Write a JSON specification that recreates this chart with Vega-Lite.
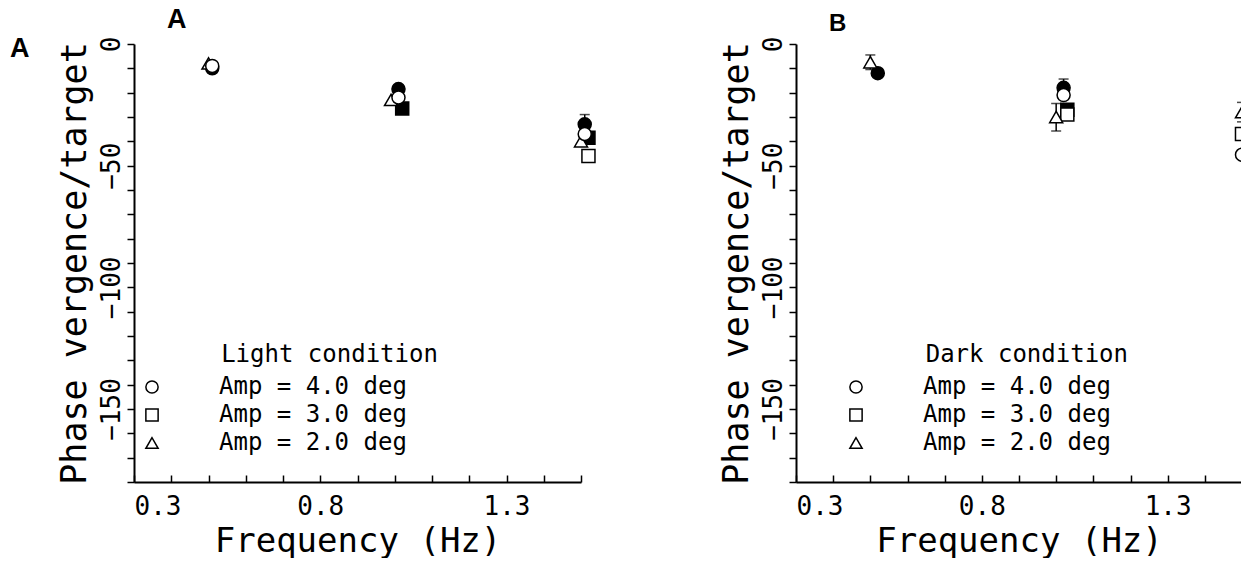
{
  "$schema": "https://vega.github.io/schema/vega-lite/v6.json",
  "background": "white",
  "padding": {"left": 10, "top": 6, "right": 0, "bottom": 0},
  "title": {"text": "A", "orient": "left", "anchor": "end", "angle": 0, "align": "right", "baseline": "top", "dy": 30, "font": "Liberation Sans", "fontWeight": "bold", "fontSize": 27, "color": "black", "offset": 8},
  "datasets": {
    "pts": [
      {"panel": "A", "freq": 0.51, "phase": -10, "amp": "Amp = 4.0 deg", "style": "filled"},
      {"panel": "A", "freq": 1.01, "phase": -18.5, "amp": "Amp = 4.0 deg", "style": "filled"},
      {"panel": "A", "freq": 1.02, "phase": -26.5, "amp": "Amp = 3.0 deg", "style": "filled"},
      {"panel": "A", "freq": 1.51, "phase": -33, "amp": "Amp = 4.0 deg", "style": "filled", "lo": -37, "hi": -29},
      {"panel": "A", "freq": 1.52, "phase": -38.5, "amp": "Amp = 3.0 deg", "style": "filled"},
      {"panel": "A", "freq": 0.5, "phase": -8, "amp": "Amp = 2.0 deg", "style": "open"},
      {"panel": "A", "freq": 0.51, "phase": -9, "amp": "Amp = 4.0 deg", "style": "open"},
      {"panel": "A", "freq": 0.99, "phase": -23, "amp": "Amp = 2.0 deg", "style": "open"},
      {"panel": "A", "freq": 1.01, "phase": -22, "amp": "Amp = 4.0 deg", "style": "open"},
      {"panel": "A", "freq": 1.5, "phase": -40, "amp": "Amp = 2.0 deg", "style": "open"},
      {"panel": "A", "freq": 1.51, "phase": -37, "amp": "Amp = 4.0 deg", "style": "open"},
      {"panel": "A", "freq": 1.52, "phase": -46, "amp": "Amp = 3.0 deg", "style": "open"},
      {"panel": "B", "freq": 0.52, "phase": -12, "amp": "Amp = 4.0 deg", "style": "filled"},
      {"panel": "B", "freq": 1.02, "phase": -18, "amp": "Amp = 4.0 deg", "style": "filled", "lo": -21.6, "hi": -14.4},
      {"panel": "B", "freq": 1.03, "phase": -27, "amp": "Amp = 3.0 deg", "style": "filled"},
      {"panel": "B", "freq": 0.5, "phase": -7.5, "amp": "Amp = 2.0 deg", "style": "open", "lo": -10.5, "hi": -4.5},
      {"panel": "B", "freq": 1.02, "phase": -21, "amp": "Amp = 4.0 deg", "style": "open"},
      {"panel": "B", "freq": 1.03, "phase": -29, "amp": "Amp = 3.0 deg", "style": "open"},
      {"panel": "B", "freq": 1.0, "phase": -30, "amp": "Amp = 2.0 deg", "style": "open", "lo": -35.8, "hi": -24.5},
      {"panel": "B", "freq": 1.5, "phase": -28, "amp": "Amp = 2.0 deg", "style": "open", "lo": -32, "hi": -24},
      {"panel": "B", "freq": 1.5, "phase": -37, "amp": "Amp = 3.0 deg", "style": "open"},
      {"panel": "B", "freq": 1.5, "phase": -45.5, "amp": "Amp = 4.0 deg", "style": "open"}
    ],
    "notes": [
      {"panel": "A", "label": "Light condition"},
      {"panel": "B", "label": "Dark condition"}
    ]
  },
  "spacing": 215,
  "bounds": "flush",
  "resolve": {"scale": {"shape": "independent", "fill": "independent", "x": "independent", "y": "independent"}, "legend": {"shape": "independent"}},
  "hconcat": [
    {
      "title": {"text": "A", "anchor": "start", "frame": "group", "dx": 33, "offset": 2, "font": "Liberation Sans", "fontWeight": "bold", "fontSize": 27, "color": "black"},
      "width": 447,
      "height": 438,
      "layer": [
        {"data": {"name": "pts"}, "transform": [{"filter": "datum.panel === 'A' && isValid(datum.lo)"}], "mark": {"type": "rule", "color": "black", "strokeWidth": 1.5},
          "encoding": {
            "x": {"field": "freq", "type": "quantitative", "scale": {"domain": [0.3, 1.5], "nice": false, "zero": false},
              "axis": {"title": "Frequency (Hz)", "values": [0.3, 0.4, 0.5, 0.6, 0.7, 0.8, 0.9, 1.0, 1.1, 1.2, 1.3, 1.4, 1.5], "format": ".1f",
                "labelExpr": "indexof(['0.3','0.8','1.3'], datum.label) >= 0 ? datum.label : ''"}},
            "y": {"field": "lo", "type": "quantitative", "scale": {"domain": [-180, 0], "nice": false, "zero": false},
              "axis": {"title": "Phase vergence/target", "values": [0, -10, -20, -30, -40, -50, -60, -70, -80, -90, -100, -110, -120, -130, -140, -150, -160, -170, -180],
                "labelExpr": "datum.value % 50 === 0 ? datum.label : ''"}},
            "y2": {"field": "hi"}}},
        {"data": {"name": "pts"}, "transform": [{"filter": "datum.panel === 'A' && isValid(datum.lo)"}], "mark": {"type": "tick", "orient": "horizontal", "size": 10, "thickness": 1.5, "color": "black"},
          "encoding": {
            "x": {"field": "freq", "type": "quantitative", "scale": {"domain": [0.3, 1.5], "nice": false, "zero": false},
              "axis": {"title": "Frequency (Hz)", "values": [0.3, 0.4, 0.5, 0.6, 0.7, 0.8, 0.9, 1.0, 1.1, 1.2, 1.3, 1.4, 1.5], "format": ".1f",
                "labelExpr": "indexof(['0.3','0.8','1.3'], datum.label) >= 0 ? datum.label : ''"}},
            "y": {"field": "hi", "type": "quantitative", "scale": {"domain": [-180, 0], "nice": false, "zero": false},
              "axis": {"title": "Phase vergence/target", "values": [0, -10, -20, -30, -40, -50, -60, -70, -80, -90, -100, -110, -120, -130, -140, -150, -160, -170, -180],
                "labelExpr": "datum.value % 50 === 0 ? datum.label : ''"}}}},
        {"data": {"name": "pts"}, "transform": [{"filter": "datum.panel === 'A' && isValid(datum.lo)"}], "mark": {"type": "tick", "orient": "horizontal", "size": 10, "thickness": 1.5, "color": "black"},
          "encoding": {
            "x": {"field": "freq", "type": "quantitative", "scale": {"domain": [0.3, 1.5], "nice": false, "zero": false},
              "axis": {"title": "Frequency (Hz)", "values": [0.3, 0.4, 0.5, 0.6, 0.7, 0.8, 0.9, 1.0, 1.1, 1.2, 1.3, 1.4, 1.5], "format": ".1f",
                "labelExpr": "indexof(['0.3','0.8','1.3'], datum.label) >= 0 ? datum.label : ''"}},
            "y": {"field": "lo", "type": "quantitative", "scale": {"domain": [-180, 0], "nice": false, "zero": false},
              "axis": {"title": "Phase vergence/target", "values": [0, -10, -20, -30, -40, -50, -60, -70, -80, -90, -100, -110, -120, -130, -140, -150, -160, -170, -180],
                "labelExpr": "datum.value % 50 === 0 ? datum.label : ''"}}}},
        {"data": {"name": "pts"}, "transform": [{"filter": "datum.panel === 'A'"}],
          "mark": {"type": "point", "filled": true, "size": 170, "stroke": "black", "strokeWidth": 1.5, "opacity": 1},
          "encoding": {
            "x": {"field": "freq", "type": "quantitative", "scale": {"domain": [0.3, 1.5], "nice": false, "zero": false},
              "axis": {"title": "Frequency (Hz)", "values": [0.3, 0.4, 0.5, 0.6, 0.7, 0.8, 0.9, 1.0, 1.1, 1.2, 1.3, 1.4, 1.5], "format": ".1f",
                "labelExpr": "indexof(['0.3','0.8','1.3'], datum.label) >= 0 ? datum.label : ''"}},
            "y": {"field": "phase", "type": "quantitative", "scale": {"domain": [-180, 0], "nice": false, "zero": false},
              "axis": {"title": "Phase vergence/target", "values": [0, -10, -20, -30, -40, -50, -60, -70, -80, -90, -100, -110, -120, -130, -140, -150, -160, -170, -180],
                "labelExpr": "datum.value % 50 === 0 ? datum.label : ''"}},
            "shape": {"field": "amp", "type": "nominal", "scale": {"domain": ["Amp = 4.0 deg", "Amp = 3.0 deg", "Amp = 2.0 deg"], "range": ["circle", "square", "triangle-up"]},
              "legend": {"title": null, "orient": "none", "legendX": 6, "legendY": 331, "padding": 0, "symbolSize": 150, "symbolFillColor": "white", "symbolStrokeColor": "black", "symbolStrokeWidth": 1.5, "labelFont": "DejaVu Sans Mono", "labelFontSize": 24, "labelColor": "black", "labelOffset": 55, "labelLimit": 400, "rowPadding": 4}},
            "fill": {"field": "style", "type": "nominal", "scale": {"domain": ["filled", "open"], "range": ["black", "white"]}, "legend": null}
          }},
        {"data": {"name": "notes"}, "transform": [{"filter": "datum.panel === 'A'"}],
          "mark": {"type": "text", "align": "left", "baseline": "middle", "font": "DejaVu Sans Mono", "fontSize": 24, "fill": "black", "opacity": 1},
          "encoding": {
            "x": {"datum": 0.534, "type": "quantitative", "scale": {"domain": [0.3, 1.5], "nice": false, "zero": false},
              "axis": {"title": "Frequency (Hz)", "values": [0.3, 0.4, 0.5, 0.6, 0.7, 0.8, 0.9, 1.0, 1.1, 1.2, 1.3, 1.4, 1.5], "format": ".1f",
                "labelExpr": "indexof(['0.3','0.8','1.3'], datum.label) >= 0 ? datum.label : ''"}},
            "y": {"datum": -127.8, "type": "quantitative", "scale": {"domain": [-180, 0], "nice": false, "zero": false},
              "axis": {"title": "Phase vergence/target", "values": [0, -10, -20, -30, -40, -50, -60, -70, -80, -90, -100, -110, -120, -130, -140, -150, -160, -170, -180],
                "labelExpr": "datum.value % 50 === 0 ? datum.label : ''"}},
            "text": {"field": "label", "type": "nominal"}}}
      ]
    },
    {
      "title": {"text": "B", "anchor": "start", "frame": "group", "dx": 33, "dy": 2, "offset": 2, "font": "Liberation Sans", "fontWeight": "bold", "fontSize": 24, "color": "black"},
      "width": 446,
      "height": 438,
      "layer": [
        {"data": {"name": "pts"}, "transform": [{"filter": "datum.panel === 'B' && isValid(datum.lo)"}], "mark": {"type": "rule", "color": "black", "strokeWidth": 1.5, "clip": true},
          "encoding": {
            "x": {"field": "freq", "type": "quantitative", "scale": {"domain": [0.3, 1.5], "nice": false, "zero": false},
              "axis": {"title": "Frequency (Hz)", "values": [0.3, 0.4, 0.5, 0.6, 0.7, 0.8, 0.9, 1.0, 1.1, 1.2, 1.3, 1.4, 1.5], "format": ".1f",
                "labelExpr": "indexof(['0.3','0.8','1.3'], datum.label) >= 0 ? datum.label : ''"}},
            "y": {"field": "lo", "type": "quantitative", "scale": {"domain": [-180, 0], "nice": false, "zero": false},
              "axis": {"title": "Phase vergence/target", "values": [0, -10, -20, -30, -40, -50, -60, -70, -80, -90, -100, -110, -120, -130, -140, -150, -160, -170, -180],
                "labelExpr": "datum.value % 50 === 0 ? datum.label : ''"}},
            "y2": {"field": "hi"}}},
        {"data": {"name": "pts"}, "transform": [{"filter": "datum.panel === 'B' && isValid(datum.lo)"}], "mark": {"type": "tick", "orient": "horizontal", "size": 10, "thickness": 1.5, "color": "black", "clip": true},
          "encoding": {
            "x": {"field": "freq", "type": "quantitative", "scale": {"domain": [0.3, 1.5], "nice": false, "zero": false},
              "axis": {"title": "Frequency (Hz)", "values": [0.3, 0.4, 0.5, 0.6, 0.7, 0.8, 0.9, 1.0, 1.1, 1.2, 1.3, 1.4, 1.5], "format": ".1f",
                "labelExpr": "indexof(['0.3','0.8','1.3'], datum.label) >= 0 ? datum.label : ''"}},
            "y": {"field": "hi", "type": "quantitative", "scale": {"domain": [-180, 0], "nice": false, "zero": false},
              "axis": {"title": "Phase vergence/target", "values": [0, -10, -20, -30, -40, -50, -60, -70, -80, -90, -100, -110, -120, -130, -140, -150, -160, -170, -180],
                "labelExpr": "datum.value % 50 === 0 ? datum.label : ''"}}}},
        {"data": {"name": "pts"}, "transform": [{"filter": "datum.panel === 'B' && isValid(datum.lo)"}], "mark": {"type": "tick", "orient": "horizontal", "size": 10, "thickness": 1.5, "color": "black", "clip": true},
          "encoding": {
            "x": {"field": "freq", "type": "quantitative", "scale": {"domain": [0.3, 1.5], "nice": false, "zero": false},
              "axis": {"title": "Frequency (Hz)", "values": [0.3, 0.4, 0.5, 0.6, 0.7, 0.8, 0.9, 1.0, 1.1, 1.2, 1.3, 1.4, 1.5], "format": ".1f",
                "labelExpr": "indexof(['0.3','0.8','1.3'], datum.label) >= 0 ? datum.label : ''"}},
            "y": {"field": "lo", "type": "quantitative", "scale": {"domain": [-180, 0], "nice": false, "zero": false},
              "axis": {"title": "Phase vergence/target", "values": [0, -10, -20, -30, -40, -50, -60, -70, -80, -90, -100, -110, -120, -130, -140, -150, -160, -170, -180],
                "labelExpr": "datum.value % 50 === 0 ? datum.label : ''"}}}},
        {"data": {"name": "pts"}, "transform": [{"filter": "datum.panel === 'B'"}],
          "mark": {"type": "point", "filled": true, "size": 170, "stroke": "black", "strokeWidth": 1.5, "opacity": 1, "clip": true},
          "encoding": {
            "x": {"field": "freq", "type": "quantitative", "scale": {"domain": [0.3, 1.5], "nice": false, "zero": false},
              "axis": {"title": "Frequency (Hz)", "values": [0.3, 0.4, 0.5, 0.6, 0.7, 0.8, 0.9, 1.0, 1.1, 1.2, 1.3, 1.4, 1.5], "format": ".1f",
                "labelExpr": "indexof(['0.3','0.8','1.3'], datum.label) >= 0 ? datum.label : ''"}},
            "y": {"field": "phase", "type": "quantitative", "scale": {"domain": [-180, 0], "nice": false, "zero": false},
              "axis": {"title": "Phase vergence/target", "values": [0, -10, -20, -30, -40, -50, -60, -70, -80, -90, -100, -110, -120, -130, -140, -150, -160, -170, -180],
                "labelExpr": "datum.value % 50 === 0 ? datum.label : ''"}},
            "shape": {"field": "amp", "type": "nominal", "scale": {"domain": ["Amp = 4.0 deg", "Amp = 3.0 deg", "Amp = 2.0 deg"], "range": ["circle", "square", "triangle-up"]},
              "legend": {"title": null, "orient": "none", "legendX": 48, "legendY": 331, "padding": 0, "symbolSize": 150, "symbolFillColor": "white", "symbolStrokeColor": "black", "symbolStrokeWidth": 1.5, "labelFont": "DejaVu Sans Mono", "labelFontSize": 24, "labelColor": "black", "labelOffset": 55, "labelLimit": 400, "rowPadding": 4}},
            "fill": {"field": "style", "type": "nominal", "scale": {"domain": ["filled", "open"], "range": ["black", "white"]}, "legend": null}
          }},
        {"data": {"name": "notes"}, "transform": [{"filter": "datum.panel === 'B'"}],
          "mark": {"type": "text", "align": "left", "baseline": "middle", "font": "DejaVu Sans Mono", "fontSize": 24, "fill": "black", "opacity": 1},
          "encoding": {
            "x": {"datum": 0.649, "type": "quantitative", "scale": {"domain": [0.3, 1.5], "nice": false, "zero": false},
              "axis": {"title": "Frequency (Hz)", "values": [0.3, 0.4, 0.5, 0.6, 0.7, 0.8, 0.9, 1.0, 1.1, 1.2, 1.3, 1.4, 1.5], "format": ".1f",
                "labelExpr": "indexof(['0.3','0.8','1.3'], datum.label) >= 0 ? datum.label : ''"}},
            "y": {"datum": -127.8, "type": "quantitative", "scale": {"domain": [-180, 0], "nice": false, "zero": false},
              "axis": {"title": "Phase vergence/target", "values": [0, -10, -20, -30, -40, -50, -60, -70, -80, -90, -100, -110, -120, -130, -140, -150, -160, -170, -180],
                "labelExpr": "datum.value % 50 === 0 ? datum.label : ''"}},
            "text": {"field": "label", "type": "nominal"}}}
      ]
    }
  ],
  "config": {
    "view": {"stroke": null},
    "axis": {"grid": false, "domainColor": "black", "domainWidth": 2, "tickColor": "black", "tickWidth": 1.5, "labelColor": "black", "titleColor": "black", "labelFont": "DejaVu Sans Mono", "titleFont": "DejaVu Sans Mono", "labelFontSize": 26, "titleFontWeight": "normal", "labelOverlap": false},
    "axisX": {"tickSize": -7, "labelPadding": 18, "labelFlush": true, "titleFontSize": 34, "titlePadding": 5},
    "axisY": {"tickSize": 7, "labelPadding": 3, "labelAngle": -90, "titleFontSize": 35, "titlePadding": 6}
  }
}
